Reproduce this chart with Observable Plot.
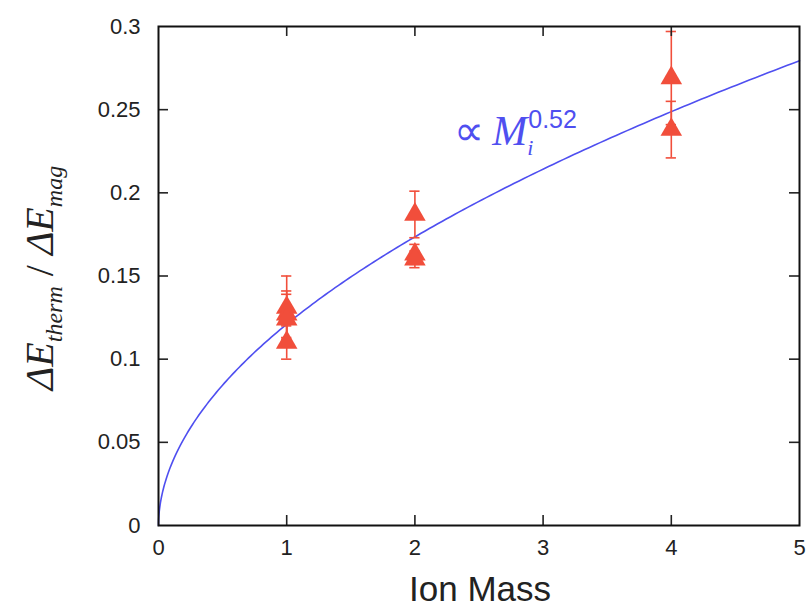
<!DOCTYPE html>
<html><head><meta charset="utf-8">
<script src="https://cdn.jsdelivr.net/npm/d3@7"></script>
<script src="https://cdn.jsdelivr.net/npm/@observablehq/plot@0.6"></script>
<style>body{margin:0;background:#fff} svg{display:block}</style>
</head><body><div id="chart"></div>
<script>
// ---- data ----
const xTicks = [0, 1, 2, 3, 4, 5];
const yTicks = [0, 0.05, 0.1, 0.15, 0.2, 0.25, 0.3];
const ionMass = [1, 1, 1, 1, 2, 2, 2, 4, 4];
const ratio   = [0.131, 0.127, 0.124, 0.110, 0.187, 0.163, 0.160, 0.269, 0.238];
const errHalf = [0.019, 0.014, 0.015, 0.010, 0.014, 0.006, 0.005, 0.028, 0.017];
// power-law fit shown in the chart: ratio = fitCoef * M^fitExp
const fitCoef = 0.121;
const fitExp = 0.52;

const red = "#f14e3b";
const blue = "#4f4ff0";

const points = ionMass.map((m, i) => ({m, r: ratio[i], lo: ratio[i] - errHalf[i], hi: ratio[i] + errHalf[i]}));
const fitX = d3.range(0, 1.0001, 0.005).map(t => 5 * t * t);
const fit = fitX.map(m => ({m, r: fitCoef * Math.pow(m, fitExp)}));

const inner = xTicks.slice(1, -1);
const innerY = yTicks.slice(1, -1);
const tx = 0.078, ty = 0.006;

const plot = Plot.plot({
  width: 812, height: 610,
  marginLeft: 158, marginRight: 13, marginTop: 26, marginBottom: 85,
  x: {domain: [0, 5]},
  y: {domain: [0, 0.3]},
  style: {fontFamily: "'Liberation Sans', Arial, sans-serif", background: "#fff", color: "#222"},
  marks: [
    Plot.line(fit, {x: "m", y: "r", stroke: blue, strokeWidth: 1.6}),
    Plot.ruleX(points, {x: "m", y1: "lo", y2: "hi", stroke: red, strokeWidth: 1.6}),
    Plot.ruleY(points, {y: "hi", x1: d => d.m - 0.04, x2: d => d.m + 0.04, stroke: red, strokeWidth: 1.6}),
    Plot.ruleY(points, {y: "lo", x1: d => d.m - 0.04, x2: d => d.m + 0.04, stroke: red, strokeWidth: 1.6}),
    Plot.dot(points, {x: "m", y: "r", symbol: "triangle", r: 8, fill: red, stroke: null}),
    // inward ticks on all four sides
    Plot.ruleX(inner, {x: d => d, y1: 0, y2: ty, stroke: "#222", strokeWidth: 1.6}),
    Plot.ruleX(inner, {x: d => d, y1: 0.3 - ty, y2: 0.3, stroke: "#222", strokeWidth: 1.6}),
    Plot.ruleY(innerY, {y: d => d, x1: 0, x2: tx, stroke: "#222", strokeWidth: 1.6}),
    Plot.ruleY(innerY, {y: d => d, x1: 5 - tx, x2: 5, stroke: "#222", strokeWidth: 1.6}),
    Plot.frame({stroke: "#111", strokeWidth: 2}),
    Plot.axisX(xTicks, {tickSize: 0, tickPadding: 14, fontSize: 22, tickFormat: d => String(d), label: null}),
    Plot.axisY(yTicks, {tickSize: 0, tickPadding: 18, fontSize: 22, tickFormat: d => String(d), label: null})
  ]
});
document.getElementById("chart").appendChild(plot);

const svg = d3.select(plot);
const sx = plot.scale("x"), sy = plot.scale("y");

// y-axis label
const yl = svg.append("text")
  .attr("transform", "translate(53,278) rotate(-90)")
  .attr("text-anchor", "middle")
  .attr("font-family", "'Liberation Serif', 'Times New Roman', serif")
  .attr("font-size", 40).attr("fill", "#222");
yl.append("tspan").attr("font-style", "italic").text("ΔE");
yl.append("tspan").attr("font-size", 24).attr("font-style", "italic").attr("dy", 9).text("therm");
yl.append("tspan").attr("dy", -9).text(" / ");
yl.append("tspan").attr("font-style", "italic").text("ΔE");
yl.append("tspan").attr("font-size", 24).attr("font-style", "italic").attr("dy", 9).text("mag");

// x-axis label
svg.append("text")
  .attr("x", 480).attr("y", 601)
  .attr("text-anchor", "middle")
  .attr("font-family", "'Liberation Sans', Arial, sans-serif")
  .attr("font-size", 35).attr("fill", "#222")
  .text("Ion Mass");

// fit annotation
const ann = svg.append("text")
  .attr("x", sx.apply(2.31)).attr("y", sy.apply(0.2285))
  .attr("text-anchor", "start")
  .attr("font-family", "'Liberation Serif', 'Times New Roman', serif")
  .attr("fill", blue);
ann.append("tspan").attr("font-size", 42).text("∝");
ann.append("tspan").attr("font-size", 42).attr("font-style", "italic").attr("dx", 8).text("M");
ann.append("tspan").attr("font-size", 22).attr("font-style", "italic").attr("dy", 10).text("i");
ann.append("tspan").attr("font-size", 25).attr("font-family", "'Liberation Sans', Arial, sans-serif").attr("dx", -5).attr("dy", -27).text("0.52");
</script>
</body></html>
